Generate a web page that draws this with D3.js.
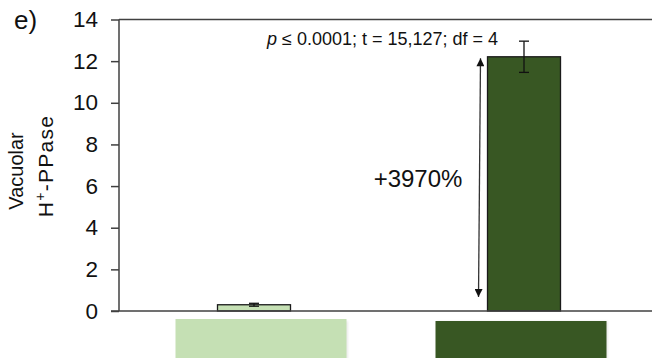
<!DOCTYPE html>
<html>
<head>
<meta charset="utf-8">
<script src="https://cdn.jsdelivr.net/npm/d3@7"></script>
<style>
  html, body { margin: 0; padding: 0; background: #fff; }
  svg { display: block; font-family: "Liberation Sans", Arial, sans-serif; }
</style>
</head>
<body>
<svg id="chart" width="652" height="358"></svg>
<script>
// Vacuolar H+-PPase expression, two groups
const categories = ["Control", "Treated"];
const means = [0.30, 12.21];
const errors = [0.07, 0.75];
const barColors = ["#c5e0b4", "#385723"];
const yTicks = [0, 2, 4, 6, 8, 10, 12, 14];
const statText = ["p", " ≤ 0.0001; t = 15,127; df = 4"];
const changeLabel = "+3970%";
const panelLabel = "e)";
const yTitleTop = "Vacuolar";
const yTitleBottom = ["H", "+", "-PPase"];

const svg = d3.select("#chart");
const W = 652, H = 358;
const plotLeft = 119, plotTop = 19.5, plotBottom = 311;

const y = d3.scaleLinear().domain([0, 14]).range([plotBottom, plotTop]);
const x = d3.scaleBand().domain(categories).range([plotLeft, 659]).paddingInner(0).paddingOuter(0);
// Swatch row under the axis uses its own, slightly narrower band layout
const xSwatch = d3.scaleBand().domain(categories).range([131, 651]);
const barW = 73;

// Panel letter
svg.append("text").attr("x", 14).attr("y", 29)
  .attr("font-size", 26).attr("fill", "#111").text(panelLabel);

// Y axis title (two rotated lines)
svg.append("text")
  .attr("transform", "translate(23,171) rotate(-90)")
  .attr("text-anchor", "middle").attr("font-size", 20).attr("fill", "#111")
  .text(yTitleTop);
const yt2 = svg.append("text")
  .attr("transform", "translate(53,166) rotate(-90)")
  .attr("text-anchor", "middle").attr("font-size", 21).attr("fill", "#111")
  .attr("letter-spacing", 1.3);
yt2.append("tspan").text(yTitleBottom[0]);
yt2.append("tspan").attr("font-size", 14).attr("dy", -8).text(yTitleBottom[1]);
yt2.append("tspan").attr("dy", 8).text(yTitleBottom[2]);

// Y axis with outward ticks
const yAxis = d3.axisLeft(y).tickValues(yTicks).tickSize(8).tickPadding(13).tickFormat(d3.format("d"));
const gy = svg.append("g").attr("transform", `translate(${plotLeft},0)`).call(yAxis);
gy.select(".domain").remove();
gy.selectAll(".tick line").attr("stroke", "#404040").attr("stroke-width", 1.5);
gy.selectAll(".tick text").attr("font-size", 22.5).attr("fill", "#111")
  .attr("font-family", "Liberation Sans, Arial, sans-serif");

const axisColor = "#404040";
// Left spine
svg.append("line").attr("x1", plotLeft).attr("x2", plotLeft).attr("y1", y(14)).attr("y2", y(0))
  .attr("stroke", axisColor).attr("stroke-width", 1.5);
// Top border
svg.append("line").attr("x1", plotLeft).attr("x2", W).attr("y1", y(14)).attr("y2", y(14))
  .attr("stroke", axisColor).attr("stroke-width", 1.5);

// Bars
svg.selectAll("rect.bar").data(categories).join("rect")
  .attr("class", "bar")
  .attr("x", d => x(d) + x.bandwidth() / 2 - barW / 2)
  .attr("width", barW)
  .attr("y", (d, i) => y(means[i]))
  .attr("height", (d, i) => y(0) - y(means[i]))
  .attr("fill", (d, i) => barColors[i])
  .attr("stroke", "#1a1a1a").attr("stroke-width", 1.3);

// Baseline
svg.append("line").attr("x1", plotLeft - 8).attr("x2", W).attr("y1", y(0)).attr("y2", y(0))
  .attr("stroke", axisColor).attr("stroke-width", 1.5);

// Error bars
const capW = 5;
categories.forEach((c, i) => {
  const cx = x(c) + x.bandwidth() / 2;
  const g = svg.append("g").attr("stroke", "#111").attr("stroke-width", 1.3);
  g.append("line").attr("x1", cx).attr("x2", cx)
    .attr("y1", y(means[i] - errors[i])).attr("y2", y(means[i] + errors[i]));
  [means[i] - errors[i], means[i] + errors[i]].forEach(v => {
    g.append("line").attr("x1", cx - capW).attr("x2", cx + capW)
      .attr("y1", y(v)).attr("y2", y(v));
  });
});

// Category swatches beneath the axis
categories.forEach((c, i) => {
  const cx = xSwatch(c) + xSwatch.bandwidth() / 2;
  svg.append("rect").attr("x", cx - 85.5 + 1.5).attr("y", 321).attr("width", 171).attr("height", 40)
    .attr("fill", "#000").attr("opacity", 0.08).style("filter", "blur(1px)");
  svg.append("rect").attr("x", cx - 85.5).attr("y", i === 0 ? 319 : 321)
    .attr("width", 171).attr("height", 40).attr("fill", barColors[i]);
});

// Double-headed change arrow beside the treated bar
const arrowX = x(categories[1]) + x.bandwidth() / 2 - barW / 2 - 8;
const defs = svg.append("defs");
defs.append("marker").attr("id", "head").attr("viewBox", "0 0 10 10")
  .attr("refX", 10).attr("refY", 5).attr("markerWidth", 9).attr("markerHeight", 8)
  .attr("markerUnits", "userSpaceOnUse").attr("orient", "auto-start-reverse")
  .append("path").attr("d", "M0,0L10,5L0,10Z").attr("fill", "#111");
svg.append("line")
  .attr("x1", arrowX + 1).attr("y1", y(means[1]) + 1.5)
  .attr("x2", arrowX - 1).attr("y2", y(0.67))
  .attr("stroke", "#333").attr("stroke-width", 1.3)
  .attr("marker-start", "url(#head)").attr("marker-end", "url(#head)");

svg.append("text").attr("x", 418).attr("y", 187).attr("text-anchor", "middle")
  .attr("font-size", 24).attr("fill", "#111").text(changeLabel);

// Statistics note
const st = svg.append("text").attr("x", 267).attr("y", 44.5).attr("font-size", 18).attr("fill", "#111");
st.append("tspan").attr("font-style", "italic").text(statText[0]);
st.append("tspan").text(statText[1]);
</script>
</body>
</html>
